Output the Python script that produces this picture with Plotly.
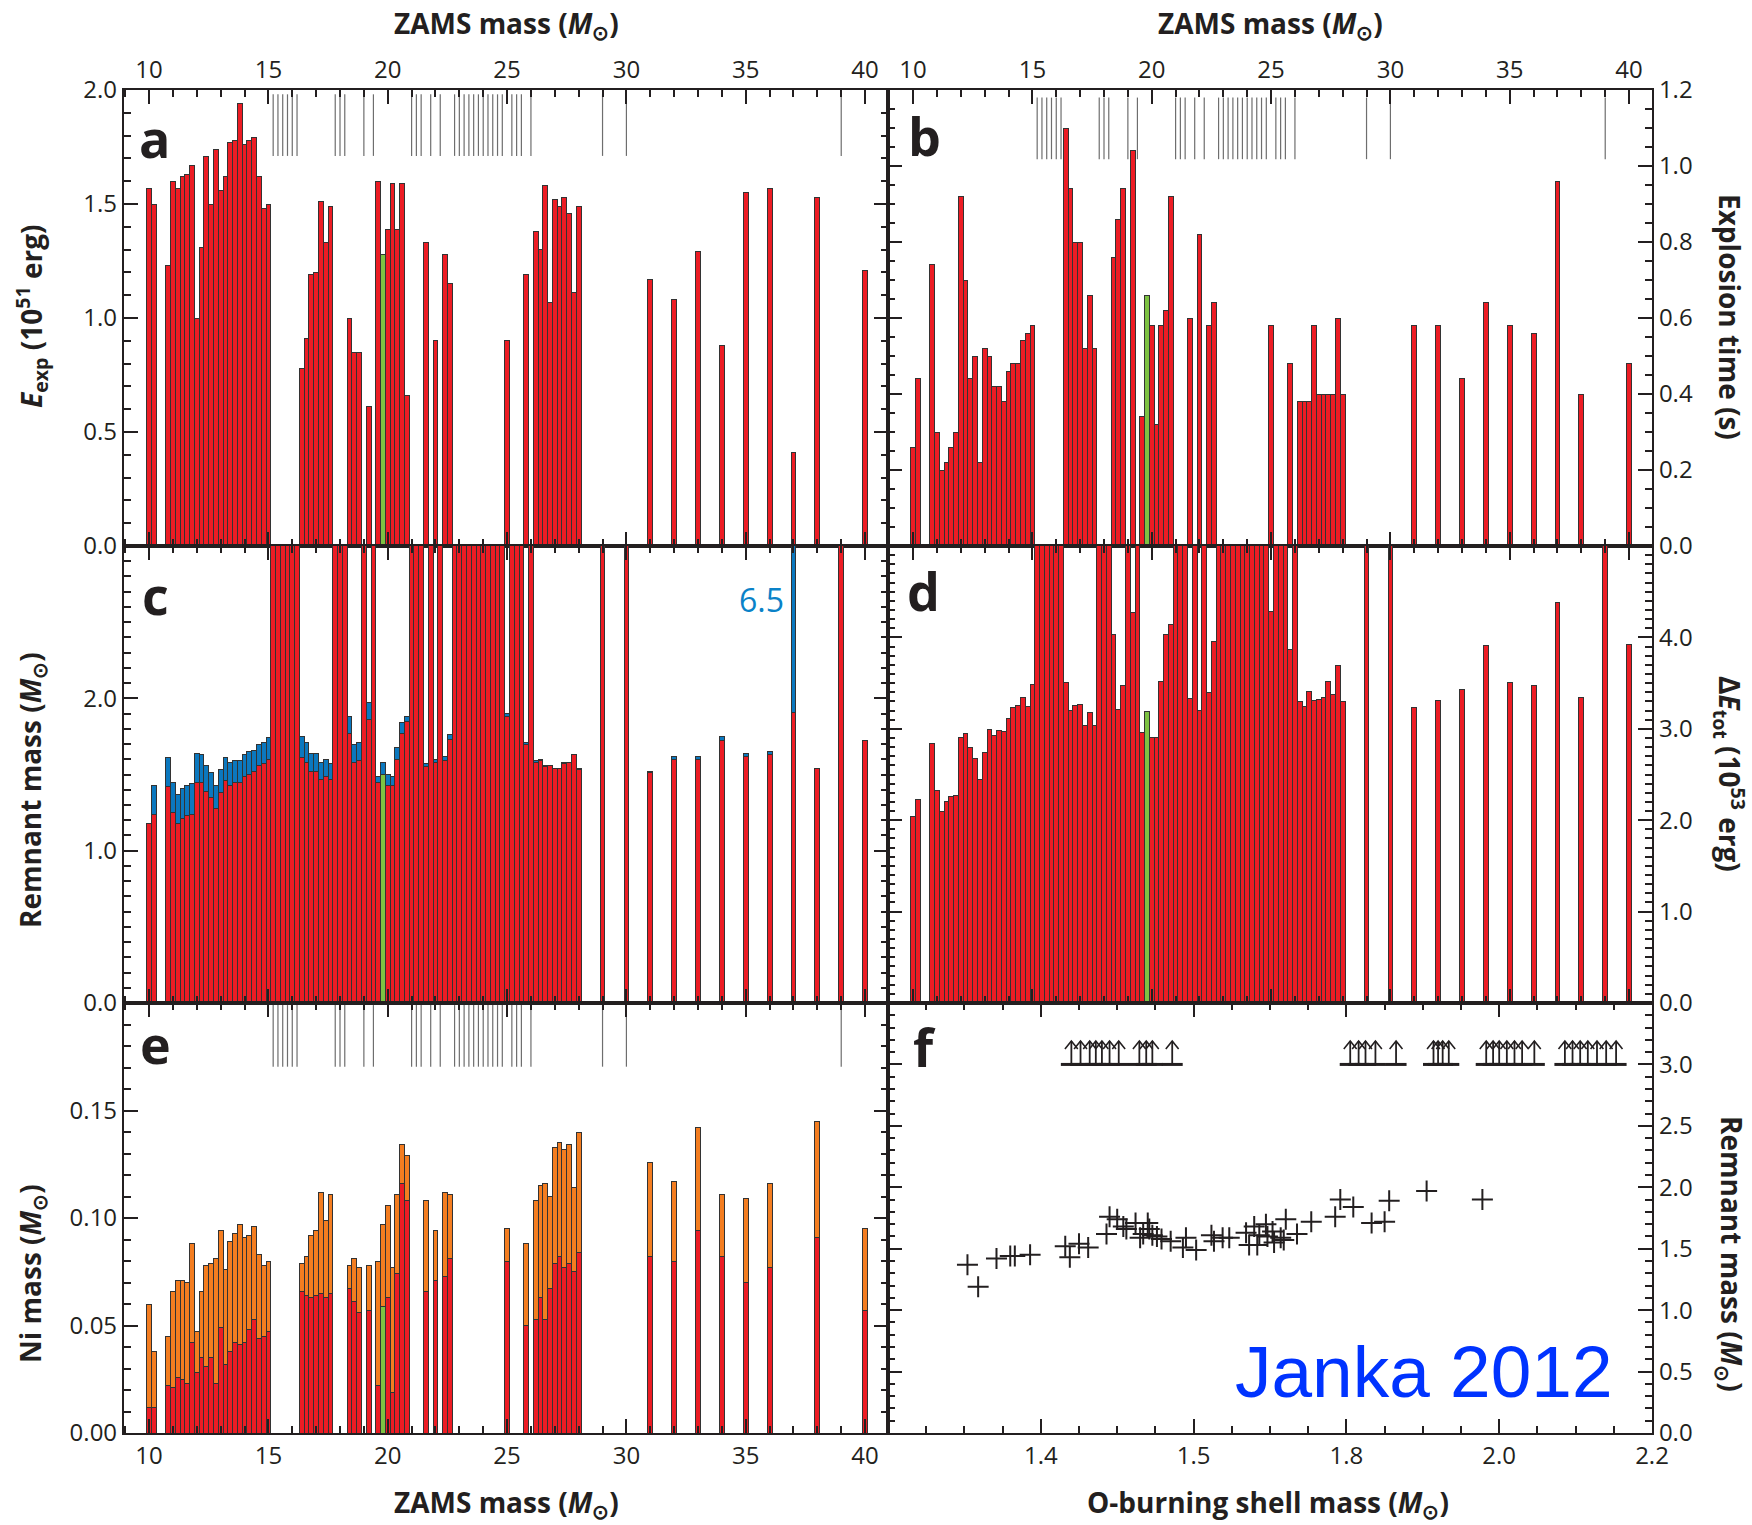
import numpy as np
import plotly.graph_objects as go

# ---------------- data ----------------
zams = [10.0, 10.2, 10.8, 11.0, 11.2, 11.4, 11.6, 11.8, 12.0, 12.2, 12.4, 12.6, 12.8, 13.0, 13.2, 13.4,
        13.6, 13.8, 14.0, 14.2, 14.4, 14.6, 14.8, 15.0,
        16.4, 16.6, 16.8, 17.0, 17.2, 17.4, 17.6,
        18.4, 18.6, 18.8,
        19.2,
        19.6, 19.8, 20.0, 20.2, 20.4, 20.6, 20.8,
        21.6, 22.0, 22.4, 22.6,
        25.0, 25.8,
        26.2, 26.4, 26.6, 26.8, 27.0, 27.2, 27.4, 27.6, 27.8, 28.0,
        31, 32, 33, 34, 35, 36, 37, 38, 40]

e_exp = [1.57, 1.50, 1.23, 1.60, 1.57, 1.62, 1.63, 1.67, 1.00, 1.31, 1.71, 1.50, 1.74, 1.56, 1.62, 1.77,
         1.78, 1.94, 1.76, 1.78, 1.79, 1.62, 1.48, 1.50,
         0.78, 0.91, 1.19, 1.20, 1.51, 1.33, 1.49,
         1.00, 0.85, 0.85,
         0.61,
         1.60, 1.28, 1.39, 1.59, 1.39, 1.59, 0.66,
         1.33, 0.90, 1.28, 1.15,
         0.90, 1.19,
         1.38, 1.30, 1.58, 1.07, 1.52, 1.49, 1.53, 1.46, 1.11, 1.49,
         1.17, 1.08, 1.29, 0.88, 1.55, 1.57, 0.41, 1.53, 1.21]

t_exp = [0.26, 0.44, 0.74, 0.30, 0.20, 0.22, 0.26, 0.30, 0.92, 0.70, 0.44, 0.50, 0.22, 0.52, 0.50, 0.42,
         0.42, 0.38, 0.46, 0.48, 0.48, 0.54, 0.56, 0.58,
         1.10, 0.94, 0.80, 0.80, 0.52, 0.66, 0.52,
         0.76, 0.86, 0.94,
         1.04,
         0.34, 0.66, 0.58, 0.32, 0.58, 0.62, 0.92,
         0.60, 0.82, 0.58, 0.64,
         0.58, 0.48,
         0.38, 0.38, 0.38, 0.58, 0.40, 0.40, 0.40, 0.40, 0.60, 0.40,
         0.58, 0.58, 0.44, 0.64, 0.58, 0.56, 0.96, 0.40, 0.48]

m_ns = [1.18, 1.24, 1.42, 1.25, 1.18, 1.21, 1.23, 1.24, 1.45, 1.45, 1.39, 1.35, 1.28, 1.38, 1.46, 1.43,
        1.45, 1.45, 1.49, 1.50, 1.52, 1.56, 1.57, 1.60,
        1.61, 1.58, 1.52, 1.52, 1.47, 1.49, 1.47,
        1.77, 1.58, 1.59,
        1.86,
        1.45, 1.50, 1.43, 1.43, 1.60, 1.77, 1.85,
        1.55, 1.58, 1.59, 1.73,
        1.88, 1.70,
        1.58, 1.59, 1.55, 1.56, 1.54, 1.54, 1.57, 1.58, 1.63, 1.53,
        1.51, 1.60, 1.60, 1.72, 1.62, 1.63, 1.91, 1.54, 1.72]

m_rem = [1.18, 1.43, 1.61, 1.45, 1.37, 1.41, 1.43, 1.44, 1.64, 1.63, 1.56, 1.51, 1.43, 1.53, 1.61, 1.58,
         1.59, 1.59, 1.63, 1.65, 1.66, 1.70, 1.71, 1.74,
         1.75, 1.71, 1.64, 1.64, 1.58, 1.60, 1.57,
         1.88, 1.70, 1.71,
         1.97,
         1.49, 1.58, 1.50, 1.49, 1.68, 1.84, 1.88,
         1.57, 1.60, 1.62, 1.76,
         1.90, 1.71,
         1.59, 1.60, 1.56, 1.56, 1.54, 1.54, 1.58, 1.58, 1.63, 1.54,
         1.52, 1.62, 1.62, 1.75, 1.64, 1.65, 6.5, 1.54, 1.72]

de_tot = [2.04, 2.23, 2.84, 2.33, 2.09, 2.20, 2.26, 2.27, 2.91, 2.95, 2.80, 2.68, 2.45, 2.74, 2.99, 2.93,
          2.98, 2.97, 3.11, 3.23, 3.26, 3.34, 3.24, 3.49,
          3.51, 3.20, 3.26, 3.27, 3.04, 3.18, 3.04,
          4.03, 3.21, 3.47,
          4.27,
          2.96, 3.19, 2.91, 2.90, 3.52, 4.03, 4.14,
          3.33, 3.20, 3.40, 3.96,
          4.28, 3.87,
          3.30, 3.24, 3.41, 3.31, 3.32, 3.34, 3.52, 3.38, 3.69, 3.30,
          3.23, 3.31, 3.43, 3.91, 3.51, 3.47, 4.38, 3.34, 3.92]

ni_min = [0.012, 0.012, 0.022, 0.021, 0.026, 0.025, 0.023, 0.042, 0.028, 0.035, 0.031, 0.035, 0.023, 0.049,
          0.032, 0.038, 0.042, 0.041, 0.042, 0.048, 0.053, 0.044, 0.045, 0.047,
          0.066, 0.064, 0.063, 0.064, 0.065, 0.063, 0.065,
          0.067, 0.061, 0.056,
          0.057,
          0.022, 0.059, 0.063, 0.019, 0.074, 0.116, 0.108,
          0.066, 0.071, 0.073, 0.081,
          0.080, 0.050,
          0.053, 0.063, 0.053, 0.067, 0.079, 0.082, 0.077, 0.079, 0.075, 0.084,
          0.082, 0.080, 0.094, 0.082, 0.070, 0.077, None, 0.091, 0.057]

ni_max = [0.060, 0.038, 0.045, 0.066, 0.071, 0.071, 0.070, 0.088, 0.047, 0.066, 0.078, 0.079, 0.081, 0.094,
          0.076, 0.089, 0.093, 0.097, 0.091, 0.092, 0.096, 0.083, 0.078, 0.080,
          0.079, 0.082, 0.092, 0.094, 0.112, 0.099, 0.111,
          0.078, 0.081, 0.077,
          0.078,
          0.080, 0.097, 0.106, 0.077, 0.111, 0.134, 0.129,
          0.108, 0.094, 0.112, 0.111,
          0.095, 0.088,
          0.108, 0.115, 0.116, 0.110, 0.133, 0.135, 0.132, 0.134, 0.114, 0.140,
          0.126, 0.117, 0.142, 0.111, 0.109, 0.116, None, 0.145, 0.095]

# non-exploding (black hole forming) models
bh_zams = [15.2, 15.4, 15.6, 15.8, 16.0, 16.2, 17.8, 18.0, 18.2, 19.0, 19.4, 21.0, 21.2, 21.4, 21.8,
           22.2, 22.8, 23.0, 23.2, 23.4, 23.6, 23.8, 24.0, 24.2, 24.4, 24.6, 24.8, 25.2, 25.4,
           25.6, 26.0, 29, 30, 39]
BH_OFFSCALE = 50.0          # off-scale value: these bars run out of the panel top
highlight_zams = 19.8
fallback_label = "6.5"

# panel f
o_shell = [1.352, 1.359, 1.371, 1.380, 1.383, 1.393, 1.416, 1.419, 1.425, 1.431, 1.443, 1.445, 1.450,
           1.454, 1.456, 1.462, 1.465, 1.467, 1.470, 1.471, 1.473, 1.476, 1.479, 1.485, 1.493, 1.495,
           1.505, 1.535, 1.540, 1.557, 1.570, 1.603, 1.609, 1.619, 1.625, 1.629, 1.642, 1.645, 1.655,
           1.658, 1.671, 1.677, 1.681, 1.703, 1.731, 1.778, 1.788, 1.809, 1.833, 1.850, 1.856, 1.905,
           1.978]
m_rem_f = [1.37, 1.19, 1.42, 1.44, 1.44, 1.45, 1.52, 1.43, 1.54, 1.51, 1.62, 1.76, 1.74,
           1.68, 1.66, 1.71, 1.59, 1.62, 1.71, 1.66, 1.61, 1.60, 1.58, 1.56, 1.51, 1.59,
           1.49, 1.61, 1.56, 1.59, 1.59, 1.63, 1.53, 1.68, 1.53, 1.61, 1.70, 1.60, 1.64,
           1.55, 1.59, 1.57, 1.74, 1.62, 1.72, 1.76, 1.90, 1.84, 1.71, 1.72, 1.89, 1.97,
           1.90]
bh_o_shell = [1.420, 1.426, 1.432, 1.436, 1.440, 1.445, 1.451, 1.4645, 1.469, 1.473, 1.486,
              1.805, 1.816, 1.825, 1.838, 1.865, 1.914, 1.920, 1.926, 1.934,
              1.983, 1.992, 2.000, 2.010, 2.020, 2.030, 2.046,
              2.086, 2.096, 2.106, 2.116, 2.128, 2.140, 2.153]
bh_lower_limit = 3.0

# tick labels
zams_ticks = [10, 15, 20, 25, 30, 35, 40]
eexp_ticks = [0.0, 0.5, 1.0, 1.5, 2.0]
texp_ticks = [0.0, 0.2, 0.4, 0.6, 0.8, 1.0, 1.2]
mrem_ticks = [0.0, 1.0, 2.0]
detot_ticks = [0.0, 1.0, 2.0, 3.0, 4.0]
ni_ticks = [0.00, 0.05, 0.10, 0.15]
mremf_ticks = [0.0, 0.5, 1.0, 1.5, 2.0, 2.5, 3.0]
f_edge = 1.3
f_tick_values = [1.4, 1.5, 1.8, 2.0, 2.2]
f_tick_labels = ["1.4", "1.5", "1.8", "2.0", "2.2"]

# ---------------- style ----------------
W, H = 1752, 1525
ML, MR, MT, MB = 124, 100, 90, 92
PW, PH = W - ML - MR, H - MT - MB
FONT = "Open Sans"
INK = "#231f20"
RED, BLUE, GREEN, ORANGE = "#ed1c24", "#0b78bf", "#7dc242", "#f47d20"
EDGE = "#333333"


def pxx(xp):
    return (xp - ML) / PW


def pxy(yp):
    return (H - MB - yp) / PH


rowA = [pxy(546), 1.0]
rowC = [pxy(1003), pxy(546)]
rowE = [0.0, pxy(1003)]
colL, colR = [0.0, 0.5], [0.5, 1.0]
ZR = [8.95, 40.96]

# broken axis of panel f: labelled values -> linear axis positions
f_scale_vals = [f_edge] + f_tick_values
f_scale_pos = list(range(len(f_scale_vals)))
o_pos = np.interp(o_shell, f_scale_vals, f_scale_pos)
bh_o_pos = np.interp(bh_o_shell, f_scale_vals, f_scale_pos)

z = np.array(zams, dtype=float)
lower_col = [GREEN if abs(v - highlight_zams) < 1e-6 else RED for v in zams]
fallback = [r - n for r, n in zip(m_rem, m_ns)]
ni_extra = [None if (a is None or b is None) else b - a for a, b in zip(ni_min, ni_max)]

fig = go.Figure()
bar_line = dict(color=EDGE, width=1)


def bar(x, y, colors, xa, ya):
    return go.Bar(x=x, y=y, width=0.2, marker=dict(color=colors, line=bar_line),
                  xaxis=xa, yaxis=ya, showlegend=False, hoverinfo="skip")


# a
fig.add_trace(bar(z, e_exp, lower_col, "x", "y"))
# b
fig.add_trace(bar(z, t_exp, lower_col, "x2", "y2"))
# c
fig.add_trace(bar(z, m_ns, lower_col, "x3", "y3"))
fig.add_trace(bar(z, fallback, BLUE, "x3", "y3"))
fig.add_trace(bar(bh_zams, [BH_OFFSCALE] * len(bh_zams), RED, "x3", "y3"))
# d
fig.add_trace(bar(z, de_tot, lower_col, "x4", "y4"))
fig.add_trace(bar(bh_zams, [BH_OFFSCALE] * len(bh_zams), RED, "x4", "y4"))
# e
fig.add_trace(bar(z, ni_min, lower_col, "x5", "y5"))
fig.add_trace(bar(z, ni_extra, ORANGE, "x5", "y5"))

# non-exploding markers near panel tops
for xa, ya, yv in (("x", "y", 1.846), ("x2", "y2", 1.099), ("x5", "y5", 0.1847)):
    fig.add_trace(go.Scatter(x=bh_zams, y=[yv] * len(bh_zams), mode="markers", xaxis=xa, yaxis=ya,
                             marker=dict(symbol="line-ns", size=44, line=dict(width=1.2, color="#6e6e6e")),
                             showlegend=False, hoverinfo="skip"))

# f: scatter
fig.add_trace(go.Scatter(x=o_pos, y=m_rem_f, mode="markers", xaxis="x6", yaxis="y6",
                         marker=dict(symbol="cross-thin", size=15, line=dict(width=2, color=INK)),
                         showlegend=False, hoverinfo="skip"))
# f: lower-limit arrows for black-hole cases (base bar, shaft, open head)
ARROW_TIP = 3.19
HEAD_W, HEAD_H = 0.042, 0.065
shaft_x, shaft_y, head_x, head_y = [], [], [], []
for xv in bh_o_pos:
    shaft_x += [xv, xv, None]
    shaft_y += [bh_lower_limit, ARROW_TIP, None]
    head_x += [xv - HEAD_W, xv, xv + HEAD_W, None]
    head_y += [ARROW_TIP - HEAD_H, ARROW_TIP, ARROW_TIP - HEAD_H, None]
fig.add_trace(go.Scatter(x=bh_o_pos, y=[bh_lower_limit] * len(bh_o_pos), mode="markers",
                         xaxis="x6", yaxis="y6",
                         marker=dict(symbol="line-ew", size=15, line=dict(width=3, color=INK)),
                         showlegend=False, hoverinfo="skip"))
fig.add_trace(go.Scatter(x=shaft_x, y=shaft_y, mode="lines", xaxis="x6", yaxis="y6",
                         line=dict(color=INK, width=1.8), showlegend=False, hoverinfo="skip"))
fig.add_trace(go.Scatter(x=head_x, y=head_y, mode="lines", xaxis="x6", yaxis="y6",
                         line=dict(color=INK, width=1.6), showlegend=False, hoverinfo="skip"))


def axis(**kw):
    d = dict(showline=True, linewidth=2.2, linecolor=INK, mirror="ticks", ticks="inside",
             ticklen=14, tickwidth=2, tickcolor=INK, showgrid=False, zeroline=False,
             automargin=False, tickfont=dict(family=FONT, size=24, color=INK))
    d.update(kw)
    return d


def minor(dt):
    return dict(ticks="inside", ticklen=7, tickwidth=1.5, tickcolor=INK, dtick=dt, tick0=0, showgrid=False)


fig.update_layout(
    width=W, height=H, margin=dict(l=ML, r=MR, t=MT, b=MB), plot_bgcolor="white", paper_bgcolor="white",
    barmode="stack", showlegend=False,
    xaxis=axis(domain=colL, anchor="y", side="top", range=ZR, tickmode="array", tickvals=zams_ticks, minor=minor(1)),
    xaxis2=axis(domain=colR, anchor="y2", side="top", range=ZR, tickmode="array", tickvals=zams_ticks, minor=minor(1)),
    xaxis3=axis(domain=colL, anchor="y3", range=ZR, tickmode="array", tickvals=zams_ticks, showticklabels=False, minor=minor(1)),
    xaxis4=axis(domain=colR, anchor="y4", range=ZR, tickmode="array", tickvals=zams_ticks, showticklabels=False, minor=minor(1)),
    xaxis5=axis(domain=colL, anchor="y5", side="bottom", range=ZR, tickmode="array", tickvals=zams_ticks, minor=minor(1)),
    xaxis6=axis(domain=colR, anchor="y6", side="bottom", range=[0, f_scale_pos[-1]], tickmode="array",
                tickvals=f_scale_pos[1:], ticktext=f_tick_labels, minor=minor(0.25)),
    yaxis=axis(domain=rowA, anchor="x", side="left", range=[0, 2.0], tickmode="array", tickvals=eexp_ticks,
               tickformat=".1f", minor=minor(0.1)),
    yaxis2=axis(domain=rowA, anchor="x2", side="right", range=[0, 1.2], tickmode="array", tickvals=texp_ticks,
                tickformat=".1f", minor=minor(0.05)),
    yaxis3=axis(domain=rowC, anchor="x3", side="left", range=[0, 3.0], tickmode="array", tickvals=mrem_ticks,
                tickformat=".1f", minor=minor(0.1)),
    yaxis4=axis(domain=rowC, anchor="x4", side="right", range=[0, 5.0], tickmode="array", tickvals=detot_ticks,
                tickformat=".1f", minor=minor(0.1)),
    yaxis5=axis(domain=rowE, anchor="x5", side="left", range=[0, 0.2], tickmode="array", tickvals=ni_ticks,
                tickformat=".2f", minor=minor(0.01)),
    yaxis6=axis(domain=rowE, anchor="x6", side="right", range=[0, 3.5], tickmode="array", tickvals=mremf_ticks,
                tickformat=".1f", minor=minor(0.1)),
)

ann = []
TF = dict(family=FONT, size=28, color=INK)
Msun = "<i>M</i><sub>⊙</sub>"
for txt, xp, yp, ang in [
    (f"<b>ZAMS mass ({Msun})</b>", 506, 25, 0),
    (f"<b>ZAMS mass ({Msun})</b>", 1270, 25, 0),
    (f"<b>ZAMS mass ({Msun})</b>", 506, 1504, 0),
    (f"<b>O-burning shell mass ({Msun})</b>", 1268, 1504, 0),
    ("<b><i>E</i><sub>exp</sub> (10<sup>51</sup> erg)</b>", 32, 316, -90),
    (f"<b>Remnant mass ({Msun})</b>", 32, 790, -90),
    (f"<b>Ni mass ({Msun})</b>", 32, 1274, -90),
    ("<b>Explosion time (s)</b>", 1730, 317, 90),
    ("<b>Δ<i>E</i><sub>tot</sub> (10<sup>53</sup> erg)</b>", 1730, 774, 90),
    (f"<b>Remnant mass ({Msun})</b>", 1730, 1254, 90),
]:
    ann.append(dict(text=txt, x=pxx(xp), y=pxy(yp), xref="paper", yref="paper", showarrow=False,
                    textangle=ang, font=TF, xanchor="center", yanchor="middle"))

for lab, xp, yp in [("a", 154, 137), ("b", 924, 135), ("c", 155, 594), ("d", 923, 590),
                    ("e", 155, 1043), ("f", 924, 1046)]:
    ann.append(dict(text=f"<b>{lab}</b>", x=pxx(xp), y=pxy(yp), xref="paper", yref="paper",
                    showarrow=False, font=dict(family=FONT, size=52, color=INK),
                    xanchor="center", yanchor="middle"))

ann.append(dict(text=fallback_label, x=35.67, y=2.65, xref="x3", yref="y3", showarrow=False,
                font=dict(family=FONT, size=32, color="#0a82c8"), xanchor="center", yanchor="middle"))
ann.append(dict(text="Janka 2012", x=pxx(1423), y=pxy(1371), xref="paper", yref="paper", showarrow=False,
                font=dict(family="Liberation Sans", size=73, color="#0033ff"), xanchor="center", yanchor="middle"))

fig.update_layout(annotations=ann)
fig.write_html("out.html")
